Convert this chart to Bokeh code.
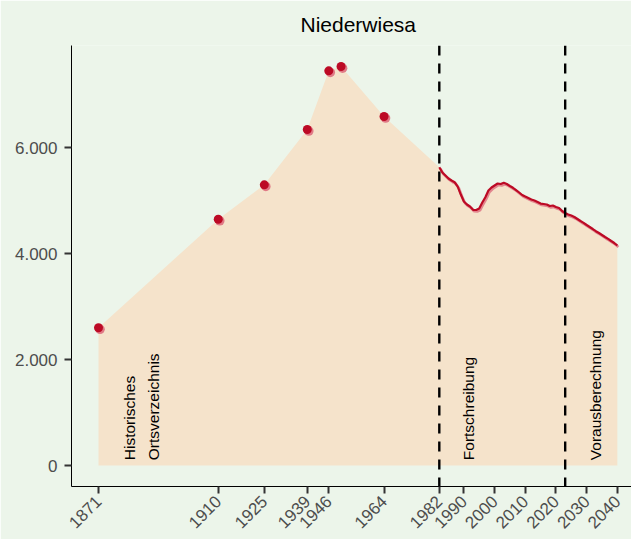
from bokeh.plotting import figure
from bokeh.models import Range1d, Span, FixedTicker, ColumnDataSource
from bokeh.transform import dodge
from bokeh.core.properties import value
from bokeh.embed import file_html
from bokeh.resources import INLINE
import math

# ---- data ----
title_text = "Niederwiesa"
hist_years = [1871, 1910, 1925, 1939, 1946, 1950, 1964]
hist_pop = [2600, 4647, 5296, 6340, 7447, 7528, 6585]

series_years = list(range(1982, 2041))
series_pop = [5628, 5528, 5472, 5415, 5377, 5345, 5264, 5113, 4981, 4925,
              4887, 4825, 4821, 4849, 4962, 5062, 5189, 5245, 5283, 5321,
              5311, 5334, 5311, 5274, 5240, 5198, 5151, 5104, 5075, 5047,
              5019, 5000, 4972, 4943, 4934, 4925, 4896, 4906, 4877, 4858,
              4802, 4764, 4736, 4717, 4689, 4651, 4613, 4579, 4538, 4500,
              4462, 4421, 4387, 4349, 4311, 4277, 4236, 4198, 4151]

phase_breaks = [1982, 2023]
phase_label_years = [1885, 1991.5, 2033]
phase_label_pos = [100, 100, 100]
phase_labels = ["Historisches\nOrtsverzeichnis", "Fortschreibung", "Vorausberechnung"]

x_ticks = [1871, 1910, 1925, 1939, 1946, 1964, 1982, 1990, 2000, 2010, 2020, 2030, 2040]
y_ticks = [0, 2000, 4000, 6000]
y_tick_labels = ["0", "2.000", "4.000", "6.000"]

# ---- styles ----
BG = "#ECF5EA"
FILL = "#F5E3CB"
RED = "#BC0A25"
PINK = "#E07A86"
FONT = "Liberation Sans"
X0, X1 = 1862.2, 2044.6
Y0, Y1 = -396, 7925

p = figure(width=631, height=539, output_backend="svg", toolbar_location=None,
           x_range=Range1d(X0, X1), y_range=Range1d(Y0, Y1),
           min_border_left=71, min_border_right=0, min_border_top=45,
           min_border_bottom=53)
p.background_fill_color = BG
p.border_fill_color = BG
p.outline_line_color = None
p.grid.visible = False

p.title.text = title_text
p.title.align = "left"
p.title.offset = 229
p.title.standoff = 19
p.title.text_font = FONT
p.title.text_font_size = "21px"
p.title.text_font_style = "normal"
p.title.text_color = "black"

# area
area_x = hist_years + series_years
area_y = hist_pop + series_pop
area_src = ColumnDataSource(dict(x=area_x, y=area_y))
p.varea(x="x", y1=0, y2="y", source=area_src, fill_color=FILL)

# phase dividers
for yr in phase_breaks:
    p.add_layout(Span(location=yr, dimension="height", line_color="black",
                      line_width=2.4, line_dash="10 8"))

# line with shadow
ser_src = ColumnDataSource(dict(x=series_years, y=series_pop))
p.line(x=dodge("x", 0.35), y=dodge("y", -28), source=ser_src, line_color=PINK,
       line_width=2.6, line_alpha=0.9)
p.line(x="x", y="y", source=ser_src, line_color=RED, line_width=2.2)

# points
hist_src = ColumnDataSource(dict(x=hist_years, y=hist_pop))
p.scatter(x=dodge("x", 0.5), y=dodge("y", -30), source=hist_src, size=9.5,
          fill_color=PINK, line_color=None)
p.scatter(x="x", y="y", source=hist_src, size=9, fill_color=RED, line_color=None)

# phase labels
lab_src = ColumnDataSource(dict(x=phase_label_years, y=phase_label_pos, t=phase_labels))
p.text(x="x", y="y", text="t", source=lab_src, angle=math.pi / 2,
       text_align="left", text_baseline="middle", text_font=value(FONT),
       text_font_size="15.5px", text_color="black", text_line_height=1.4)

# axes
xa = p.xaxis[0]
xa.ticker = FixedTicker(ticks=x_ticks)
xa.minor_tick_line_color = None
xa.major_tick_in = 0
xa.major_tick_out = 7
xa.major_tick_line_width = 2
xa.major_tick_line_color = "#333333"
xa.axis_line_color = "black"
xa.major_label_orientation = math.pi / 4
xa.major_label_standoff = 5
xa.major_label_text_font = FONT
xa.major_label_text_font_size = "17px"
xa.major_label_text_color = "#4D4D4D"

ya = p.yaxis[0]
ya.ticker = FixedTicker(ticks=y_ticks)
ya.major_label_overrides = {t: l for t, l in zip(y_ticks, y_tick_labels)}
ya.minor_tick_line_color = None
ya.major_tick_in = 0
ya.major_tick_out = 7
ya.major_tick_line_width = 2
ya.major_tick_line_color = "#333333"
ya.axis_line_color = "black"
ya.major_label_standoff = 7
ya.major_label_text_font = FONT
ya.major_label_text_font_size = "17px"
ya.major_label_text_color = "#4D4D4D"

open("out.html", "w").write(file_html(p, INLINE))
